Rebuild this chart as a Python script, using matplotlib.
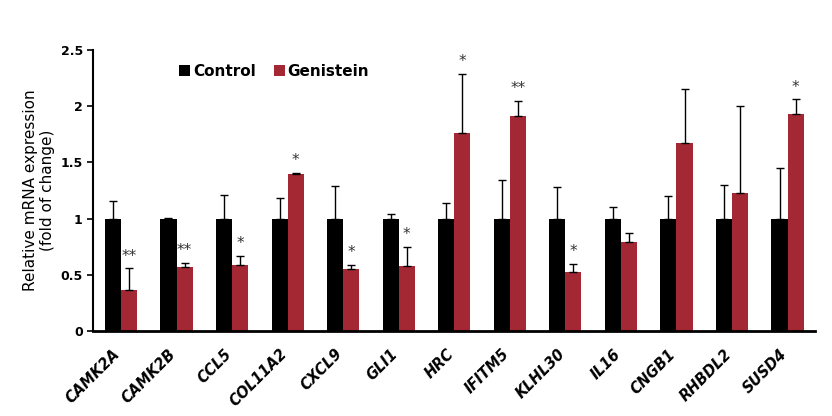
import numpy as np
import matplotlib.pyplot as plt

# Gene list and measured values (fold of change)
genes = ['CAMK2A', 'CAMK2B', 'CCL5', 'COL11A2', 'CXCL9', 'GLI1', 'HRC',
         'IFITM5', 'KLHL30', 'IL16', 'CNGB1', 'RHBDL2', 'SUSD4']
control = [1, 1, 1, 1, 1, 1, 1, 1, 1, 1, 1, 1, 1]
control_err = [0.16, 0.01, 0.21, 0.18, 0.29, 0.04, 0.14, 0.34, 0.28, 0.10, 0.20, 0.30, 0.45]
genistein = [0.37, 0.57, 0.59, 1.40, 0.55, 0.58, 1.76, 1.91, 0.53, 0.79, 1.67, 1.23, 1.93]
genistein_err = [0.19, 0.04, 0.08, 0.01, 0.04, 0.17, 0.53, 0.14, 0.07, 0.08, 0.48, 0.77, 0.13]
stars = ['**', '**', '*', '*', '*', '*', '*', '**', '*', '', '', '', '*']

red = '#A42834'
x = np.arange(len(genes))
w = 0.29

fig = plt.figure(figsize=(8.32, 4.16), dpi=100)
ax = fig.add_axes([0.112, 0.204, 0.868, 0.676])

ax.bar(x - w/2, control, w, color='black', label='Control',
       yerr=[np.zeros(len(genes)), control_err], capsize=3,
       error_kw=dict(elinewidth=1, capthick=1, ecolor='black'))
ax.bar(x + w/2, genistein, w, color=red, label='Genistein',
       yerr=[np.zeros(len(genes)), genistein_err], capsize=3,
       error_kw=dict(elinewidth=1, capthick=1, ecolor='black'))

for i in range(len(genes)):
    if stars[i]:
        ax.text(x[i] + w/2, genistein[i] + genistein_err[i] + 0.04, stars[i],
                ha='center', va='bottom', fontsize=11, color='#333333')

ax.set_xlim(-0.5, len(genes) - 0.5)
ax.set_ylim(0, 2.5)
ax.set_yticks([0, 0.5, 1, 1.5, 2, 2.5])
ax.set_yticklabels(['0', '0.5', '1', '1.5', '2', '2.5'], fontweight='bold', fontsize=9)
ax.set_xticks(x - 0.15)
ax.set_xticklabels(genes, rotation=45, ha='right', rotation_mode='anchor',
                   fontweight='bold', fontstyle='italic', fontsize=10.5)
ax.tick_params(axis='x', length=0, pad=11)
ax.tick_params(axis='y', length=4, width=1.2)
ax.set_ylabel('Relative mRNA expression\n(fold of change)', fontsize=11)

ax.spines['top'].set_visible(False)
ax.spines['right'].set_visible(False)
ax.spines['left'].set_linewidth(1.5)
ax.spines['bottom'].set_linewidth(2)

ax.legend(loc='upper left', bbox_to_anchor=(0.1, 1.0), ncol=2, frameon=False,
          prop=dict(weight='bold', size=11), handlelength=0.7, handleheight=0.7,
          handletextpad=0.2, columnspacing=1.2)

plt.savefig('out.png', dpi=100)
